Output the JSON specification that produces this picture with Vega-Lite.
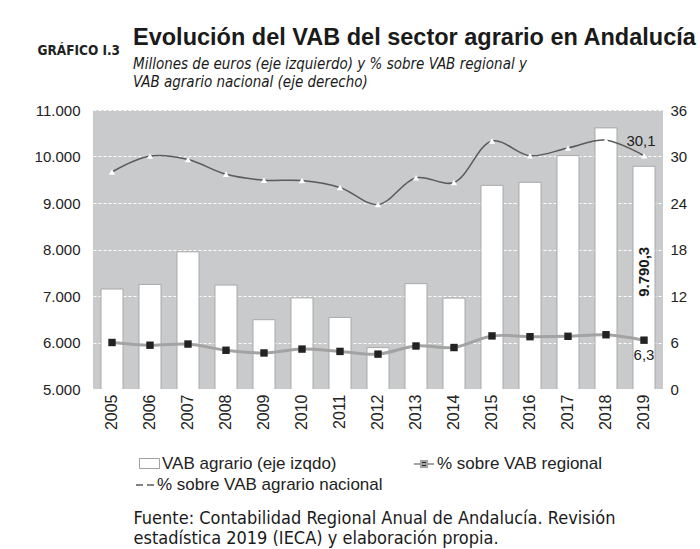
{
  "$schema": "https://vega.github.io/schema/vega-lite/v6.json",
  "width": 570,
  "height": 279,
  "autosize": {"type": "none"},
  "padding": {"left": 93, "top": 110, "right": 37, "bottom": 160},
  "background": "#ffffff",
  "config": {
    "font": "Liberation Sans",
    "view": {"fill": "#c9cacc", "stroke": null},
    "locale": {"number": {"decimal": ",", "thousands": ".", "grouping": [3], "currency": ["", " €"]}},
    "axis": {"labelColor": "#222222", "labelFont": "Liberation Sans"},
    "legend": {"labelFont": "Liberation Sans", "labelFontSize": 17, "labelColor": "#222222", "padding": 0, "labelOffset": 2, "labelLimit": 0}
  },
  "title": {
    "text": "Evolución del VAB del sector agrario en Andalucía",
    "subtitle": ["Millones de euros (eje izquierdo) y % sobre VAB regional y", "VAB agrario nacional (eje derecho)"],
    "anchor": "start",
    "frame": "group",
    "dx": 40,
    "offset": -47,
    "font": "Liberation Sans",
    "fontSize": 23.5,
    "fontWeight": "bold",
    "color": "#1a1a1a",
    "subtitleFont": "DejaVu Sans Condensed",
    "subtitleFontStyle": "italic",
    "subtitleFontSize": 15,
    "subtitleLineHeight": 18,
    "subtitlePadding": 8,
    "subtitleColor": "#1a1a1a"
  },
  "data": {
    "values": [
      {"year": "2005", "vab": 7150, "reg": 6.0, "nac": 28.0},
      {"year": "2006", "vab": 7250, "reg": 5.65, "nac": 30.05},
      {"year": "2007", "vab": 7950, "reg": 5.8, "nac": 29.6},
      {"year": "2008", "vab": 7235, "reg": 5.0, "nac": 27.7},
      {"year": "2009", "vab": 6490, "reg": 4.65, "nac": 26.95},
      {"year": "2010", "vab": 6960, "reg": 5.15, "nac": 26.9},
      {"year": "2011", "vab": 6540, "reg": 4.85, "nac": 26.0},
      {"year": "2012", "vab": 5890, "reg": 4.5, "nac": 23.8},
      {"year": "2013", "vab": 7265, "reg": 5.55, "nac": 27.25},
      {"year": "2014", "vab": 6955, "reg": 5.35, "nac": 26.65},
      {"year": "2015", "vab": 9380, "reg": 6.85, "nac": 32.0},
      {"year": "2016", "vab": 9445, "reg": 6.75, "nac": 30.1},
      {"year": "2017", "vab": 10020, "reg": 6.8, "nac": 31.1},
      {"year": "2018", "vab": 10615, "reg": 7.0, "nac": 32.1},
      {"year": "2019", "vab": 9790.3, "reg": 6.3, "nac": 30.1}
    ]
  },
  "encoding": {
    "x": {
      "field": "year",
      "type": "ordinal",
      "scale": {"paddingInner": 0.42, "paddingOuter": 0.21},
      "axis": {
        "labelAngle": 270,
        "labelAlign": "right",
        "labelBaseline": "middle",
        "labelFontSize": 16,
        "labelPadding": 5,
        "ticks": false,
        "domain": false,
        "title": ["Fuente: Contabilidad Regional Anual de Andalucía. Revisión", "estadística 2019 (IECA) y elaboración propia."],
        "titleFont": "DejaVu Sans Condensed",
        "titleFontSize": 18,
        "titleFontWeight": "normal",
        "titleColor": "#1a1a1a",
        "titleAlign": "left",
        "titleBaseline": "alphabetic",
        "titleAngle": 0,
        "titleX": 40,
        "titleY": 134,
        "titleLineHeight": 20
      }
    }
  },
  "layer": [
    {
      "layer": [
        {
          "mark": {"type": "bar", "stroke": "#a8a8a8", "strokeWidth": 1, "clip": true},
          "encoding": {
            "y": {
              "field": "vab",
              "type": "quantitative",
              "scale": {"domain": [5000, 11000], "nice": false, "zero": false},
              "axis": {
                "orient": "left",
                "values": [5000, 6000, 7000, 8000, 9000, 10000, 11000],
                "format": ",.0f",
                "labelFontSize": 15,
                "labelPadding": 13,
                "ticks": false,
                "domain": false,
                "grid": true,
                "gridColor": "#ffffff",
                "gridDash": [3, 2],
                "gridWidth": 1,
                "title": "GRÁFICO I.3",
                "titleFont": "DejaVu Sans Condensed",
                "titleFontSize": 13.5,
                "titleFontWeight": "bold",
                "titleColor": "#222222",
                "titleAngle": 0,
                "titleAlign": "left",
                "titleBaseline": "alphabetic",
                "titleX": -56,
                "titleY": -56
              }
            },
            "fill": {
              "datum": "VAB agrario (eje izqdo)",
              "scale": {"range": ["#ffffff"]},
              "legend": {
                "title": null,
                "orient": "none",
                "legendX": 46,
                "legendY": 343,
                "symbolType": "M-1,-0.5H1V0.5H-1Z",
                "symbolSize": 400,
                "symbolStrokeColor": "#a0a0a0",
                "symbolStrokeWidth": 1
              }
            }
          }
        },
        {
          "transform": [{"filter": "datum.year == '2019'"}],
          "mark": {"type": "text", "angle": 270, "align": "center", "baseline": "middle", "fontSize": 15, "fontWeight": "bold", "color": "#1a1a1a"},
          "encoding": {
            "y": {"datum": 7520, "type": "quantitative"},
            "text": {"field": "vab", "type": "quantitative", "format": ",.1f"}
          }
        }
      ]
    },
    {
      "layer": [
        {
          "mark": {"type": "line", "interpolate": "catmull-rom", "strokeWidth": 1.5},
          "encoding": {
            "y": {
              "field": "nac",
              "type": "quantitative",
              "scale": {"domain": [0, 36], "nice": false},
              "axis": {
                "orient": "right",
                "values": [0, 6, 12, 18, 24, 30, 36],
                "labelFontSize": 15,
                "labelPadding": 7,
                "ticks": false,
                "domain": false,
                "grid": false,
                "title": null
              }
            },
            "stroke": {
              "datum": "% sobre VAB agrario nacional",
              "scale": {"range": ["#5a5a5a"]},
              "legend": {
                "title": null,
                "orient": "none",
                "legendX": 42,
                "legendY": 365,
                "symbolType": "stroke",
                "symbolDash": [7, 4],
                "symbolSize": 324,
                "symbolStrokeWidth": 1.5
              }
            }
          }
        },
        {
          "mark": {"type": "point", "shape": "triangle-up", "filled": true, "fill": "#ffffff", "size": 40, "opacity": 1},
          "encoding": {"y": {"field": "nac", "type": "quantitative"}}
        },
        {
          "mark": {"type": "line", "interpolate": "catmull-rom", "strokeWidth": 3},
          "encoding": {
            "y": {"field": "reg", "type": "quantitative"},
            "stroke": {
              "datum": "% sobre VAB regional",
              "scale": {"range": ["#a3a3a3"]},
              "legend": {
                "title": null,
                "orient": "none",
                "legendX": 320,
                "legendY": 343,
                "symbolType": "M-1,0H1M-0.3,-0.3H0.3V0.3H-0.3Z",
                "symbolSize": 400,
                "symbolFillColor": "#2a2a2a",
                "symbolStrokeWidth": 2
              }
            }
          }
        },
        {
          "mark": {"type": "point", "shape": "square", "filled": true, "color": "#222222", "size": 55, "opacity": 1},
          "encoding": {"y": {"field": "reg", "type": "quantitative"}}
        },
        {
          "transform": [{"filter": "datum.year == '2019'"}],
          "mark": {"type": "text", "dy": -15, "dx": -3, "fontSize": 15, "color": "#222222"},
          "encoding": {
            "y": {"field": "nac", "type": "quantitative"},
            "text": {"field": "nac", "type": "quantitative", "format": ".1f"}
          }
        },
        {
          "transform": [{"filter": "datum.year == '2019'"}],
          "mark": {"type": "text", "dy": 15, "dx": 0, "fontSize": 15, "color": "#222222"},
          "encoding": {
            "y": {"field": "reg", "type": "quantitative"},
            "text": {"field": "reg", "type": "quantitative", "format": ".1f"}
          }
        }
      ],
      "resolve": {"scale": {"stroke": "independent"}, "legend": {"stroke": "independent"}}
    }
  ],
  "resolve": {"scale": {"y": "independent"}}
}
